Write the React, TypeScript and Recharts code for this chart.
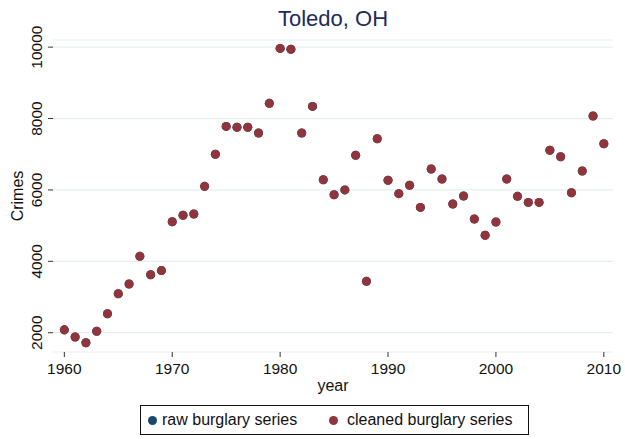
import React from 'react';
import { ScatterChart, Scatter, XAxis, YAxis, CartesianGrid, Legend, Label } from 'recharts';

const years = [
  1960, 1961, 1962, 1963, 1964, 1965, 1966, 1967, 1968, 1969,
  1970, 1971, 1972, 1973, 1974, 1975, 1976, 1977, 1978, 1979,
  1980, 1981, 1982, 1983, 1984, 1985, 1986, 1987, 1988, 1989,
  1990, 1991, 1992, 1993, 1994, 1995, 1996, 1997, 1998, 1999,
  2000, 2001, 2002, 2003, 2004, 2005, 2006, 2007, 2008, 2009, 2010,
];

const rawBurglary = [
  2080, 1880, 1720, 2040, 2530, 3090, 3365, 4140, 3625, 3740,
  5110, 5290, 5325, 6100, 7000, 7780, 7755, 7755, 7595, 8425,
  9965, 9940, 7595, 8340, 6285, 5865, 6000, 6970, 3440, 7435,
  6270, 5895, 6130, 5510, 6585, 6305, 5605, 5830, 5185, 4730,
  5100, 6305, 5820, 5650, 5650, 7110, 6930, 5920, 6530, 8070, 7295,
];

const cleanedBurglary = [
  2080, 1880, 1720, 2040, 2530, 3090, 3365, 4140, 3625, 3740,
  5110, 5290, 5325, 6100, 7000, 7780, 7755, 7755, 7595, 8425,
  9965, 9940, 7595, 8340, 6285, 5865, 6000, 6970, 3440, 7435,
  6270, 5895, 6130, 5510, 6585, 6305, 5605, 5830, 5185, 4730,
  5100, 6305, 5820, 5650, 5650, 7110, 6930, 5920, 6530, 8070, 7295,
];

const xTicks = [1960, 1970, 1980, 1990, 2000, 2010];
const yTicks = [2000, 4000, 6000, 8000, 10000];
const seriesNames = ['raw burglary series', 'cleaned burglary series'];
const titleText = 'Toledo, OH';

const RAW_COLOR = '#1a476f';
const CLEAN_COLOR = '#90353b';
const FONT = '"Liberation Sans", Arial, Helvetica, sans-serif';

const rawData = years.map((y, i) => ({ year: y, crimes: rawBurglary[i] }));
const cleanedData = years.map((y, i) => ({ year: y, crimes: cleanedBurglary[i] }));

const YTick = (props: any) => {
  const { x, y, payload } = props;
  const tx = x - 4;
  return (
    <text
      x={tx}
      y={y}
      transform={`rotate(-90, ${tx}, ${y})`}
      textAnchor="middle"
      fill="#111"
      fontSize={15.5}
      fontFamily={FONT}
    >
      {payload.value}
    </text>
  );
};

const YLabel = (props: any) => {
  const vb = props.viewBox || { x: 8, y: 40, width: 45, height: 312 };
  const x = vb.x + 15;
  const y = vb.y + vb.height / 2;
  return (
    <text
      x={x}
      y={y}
      transform={`rotate(-90, ${x}, ${y})`}
      textAnchor="middle"
      fill="#111"
      fontSize={16}
      fontFamily={FONT}
    >
      Crimes
    </text>
  );
};

const LegendContent = () => (
  <div
    style={{
      boxSizing: 'border-box',
      width: 389,
      height: 30,
      border: '1px solid #111',
      position: 'relative',
      fontFamily: FONT,
      fontSize: 16,
      color: '#111',
      background: '#fff',
    }}
  >
    <span
      style={{
        position: 'absolute', left: 6.5, top: 9.5, width: 9, height: 9,
        borderRadius: '50%', background: RAW_COLOR,
      }}
    />
    <span style={{ position: 'absolute', left: 21, top: 4, lineHeight: '20px', whiteSpace: 'nowrap' }}>
      {seriesNames[0]}
    </span>
    <span
      style={{
        position: 'absolute', left: 187.5, top: 9.5, width: 9, height: 9,
        borderRadius: '50%', background: CLEAN_COLOR,
      }}
    />
    <span style={{ position: 'absolute', left: 206, top: 4, lineHeight: '20px', whiteSpace: 'nowrap' }}>
      {seriesNames[1]}
    </span>
  </div>
);

export default function App() {
  return (
    <div style={{ position: 'absolute', left: 0, top: 0, width: 625, height: 439, background: '#fff' }}>
      <div
        style={{
          position: 'absolute', left: 53, top: 8, width: 560, textAlign: 'center',
          fontFamily: FONT, fontSize: 22, lineHeight: '22px', color: '#1e2c5a',
        }}
      >
        {titleText}
      </div>
      <ScatterChart
        width={625}
        height={439}
        margin={{ top: 40, right: 12, bottom: 4, left: 8 }}
        style={{ position: 'absolute', left: 0, top: 0 }}
      >
        <CartesianGrid vertical={false} stroke="#e6eff0" strokeWidth={1.2} />
        <XAxis
          type="number"
          dataKey="year"
          domain={[1958.95, 2010.85]}
          ticks={xTicks}
          allowDataOverflow
          axisLine={false}
          tickLine={{ stroke: '#333' }}
          tickSize={5}
          tickMargin={6}
          height={53}
          tick={{ fill: '#111', fontSize: 15.5, fontFamily: FONT }}
          interval={0}
        >
          <Label
            value="year"
            position="insideBottom"
            offset={14.5}
            style={{ fill: '#111', fontSize: 16, fontFamily: FONT }}
          />
        </XAxis>
        <YAxis
          type="number"
          dataKey="crimes"
          domain={[1460, 10200]}
          ticks={yTicks}
          allowDataOverflow
          axisLine={false}
          tickLine={{ stroke: '#333' }}
          tickSize={5}
          tickMargin={2}
          width={45}
          tick={<YTick />}
          interval={0}
        >
          <Label content={<YLabel />} />
        </YAxis>
        <Legend
          verticalAlign="bottom"
          align="center"
          content={<LegendContent />}
          wrapperStyle={{ left: 140, bottom: 4, width: 389, height: 30 }}
        />
        <Scatter name={seriesNames[0]} data={rawData} fill={RAW_COLOR} isAnimationActive={false} />
        <Scatter name={seriesNames[1]} data={cleanedData} fill={CLEAN_COLOR} isAnimationActive={false} />
      </ScatterChart>
    </div>
  );
}
